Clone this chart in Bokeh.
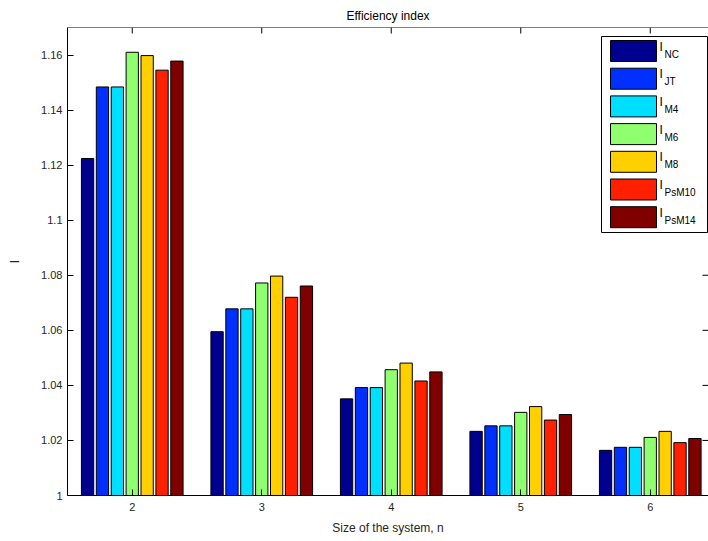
from bokeh.plotting import figure
from bokeh.models import Range1d, FixedTicker, CustomJSTickFormatter, ColumnDataSource, Span
from bokeh.embed import file_html
from bokeh.resources import INLINE
from bokeh.core.properties import value

# ---------------- data ----------------
sizes = [2, 3, 4, 5, 6]
series_names = ["NC", "JT", "M4", "M6", "M8", "PsM10", "PsM14"]
I_NC    = [1.1224, 1.0595, 1.0351, 1.0233, 1.0164]
I_JT    = [1.1484, 1.0678, 1.0392, 1.0253, 1.0175]
I_M4    = [1.1484, 1.0678, 1.0392, 1.0253, 1.0175]
I_M6    = [1.1610, 1.0772, 1.0457, 1.0302, 1.0211]
I_M8    = [1.1598, 1.0797, 1.0481, 1.0323, 1.0233]
I_PsM10 = [1.1545, 1.0720, 1.0416, 1.0274, 1.0192]
I_PsM14 = [1.1578, 1.0761, 1.0449, 1.0294, 1.0207]
series_values = [I_NC, I_JT, I_M4, I_M6, I_M8, I_PsM10, I_PsM14]
colors = ["#00008F", "#0030FF", "#00DFFF", "#8FFF70", "#FFCF00", "#FF2000", "#800000"]
y_ticks = [1.0, 1.02, 1.04, 1.06, 1.08, 1.10, 1.12, 1.14, 1.16]
x_ticks = sizes
x_label = "Size of the system, n"

# ---------------- style ----------------
FONT = "Liberation Sans"
TXT = "#262626"
X0, X1 = 1.5, 6.4498
Y0, Y1 = 1.0, 1.17
BAR_STEP = 0.115
BAR_W = 0.095
FL, FT, FB = 67, 27, 495          # frame left / top / bottom in canvas pixels
PX_X = 129.5                      # px per x unit
PX_Y = (FB - FT) / (Y1 - Y0)      # px per y unit
def dx(px): return X0 + (px - FL) / PX_X
def dy(py): return Y0 + (FB - py) / PX_Y

p = figure(width=708, height=541, output_backend="svg", toolbar_location=None,
           x_range=Range1d(X0, X1), y_range=Range1d(Y0, Y1),
           min_border_left=67, min_border_right=0, min_border_top=27, min_border_bottom=46,
           background_fill_color="white", border_fill_color="white")
p.grid.visible = False
p.outline_line_color = None

p.title.text = "Efficiency index"
p.title.align = "center"
p.title.text_font = FONT
p.title.text_font_size = "12px"
p.title.text_font_style = "normal"
p.title.text_color = "black"
p.title.standoff = 9

# axes
p.xaxis.ticker = FixedTicker(ticks=x_ticks)
p.yaxis.ticker = FixedTicker(ticks=y_ticks)
p.yaxis.formatter = CustomJSTickFormatter(
    code="return tick.toFixed(2).replace(/0+$/,'').replace(/\\.$/,'');")
for ax in (p.xaxis[0], p.yaxis[0]):
    ax.major_tick_in = 6
    ax.major_tick_out = 0
    ax.minor_tick_line_color = None
    ax.axis_line_color = "black"
    ax.major_tick_line_color = "black"
    ax.major_label_text_font = FONT
    ax.major_label_text_font_size = "11px"
    ax.major_label_text_color = TXT
    ax.axis_label_text_font = FONT
    ax.axis_label_text_font_size = "12px"
    ax.axis_label_text_font_style = "normal"
    ax.axis_label_text_color = TXT
p.yaxis.axis_label = "I"
p.xaxis.axis_label = x_label
p.xaxis.major_label_standoff = 7
p.xaxis.axis_label_standoff = 7
p.yaxis.major_label_standoff = 5
p.yaxis.axis_label_standoff = 16

# box: top edge line + inward ticks on top and right
p.add_layout(Span(location=Y1, dimension="width", line_color="black", line_width=1))
p.segment(x0=x_ticks, x1=x_ticks, y0=[Y1] * len(x_ticks), y1=[dy(FT + 6)] * len(x_ticks),
          line_color="black", line_width=1)
p.segment(x0=[X1] * len(y_ticks), x1=[dx(708 - 6)] * len(y_ticks), y0=y_ticks, y1=y_ticks,
          line_color="black", line_width=1)

# bars
n = len(series_names)
for i, (name, vals, col) in enumerate(zip(series_names, series_values, colors)):
    off = (i - (n - 1) / 2) * BAR_STEP
    src = ColumnDataSource(dict(x=[s + off for s in sizes], top=vals))
    p.vbar(x="x", top="top", bottom=0.9, width=BAR_W, source=src,
           fill_color=col, line_color="black", line_width=1)

# ---------------- manual legend (positions from frame pixels) ----------------
p.quad(left=[dx(601)], right=[dx(707)], top=[dy(36)], bottom=[dy(232)],
       fill_color="white", line_color="black", line_width=1)
for i, (name, col) in enumerate(zip(series_names, colors)):
    t = 40 + i * 27.7
    p.quad(left=[dx(610)], right=[dx(656)], top=[dy(t)], bottom=[dy(t + 21)],
           fill_color=col, line_color="black", line_width=1)
    p.text(x=[dx(659)], y=[dy(t - 1)], text=["I"], text_font=value(FONT),
           text_font_size="12px", text_baseline="top", text_align="left", text_color="black")
    p.text(x=[dx(664)], y=[dy(t + 8)], text=[name], text_font=value(FONT),
           text_font_size="10px", text_baseline="top", text_align="left", text_color="black")

open("out.html", "w").write(file_html(p, INLINE))
